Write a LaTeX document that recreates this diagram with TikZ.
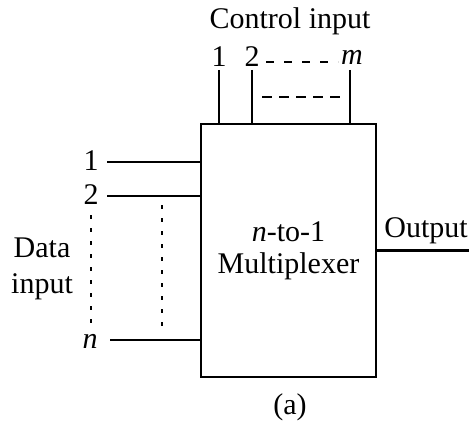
\documentclass[tikz,border=0pt]{standalone}
\usepackage{fontspec}
\setmainfont{Liberation Serif}
\begin{document}
\begin{tikzpicture}[x=0.5pt,y=-0.5pt,
  wire/.style={line width=1.1pt},
  dotline/.style={line width=0.9pt,dash pattern=on 2pt off 4.5pt},
  dashline/.style={line width=0.9pt,dash pattern=on 5pt off 3.5pt},
  dashlineb/.style={line width=0.9pt,dash pattern=on 4pt off 5pt},
  lbl/.style={inner sep=0pt,font=\fontsize{15}{17}\selectfont},
  box/.style={draw,line width=1.1pt,minimum width=87.5pt,minimum height=126.5pt,inner sep=0pt,align=center,font=\fontsize{15}{17}\selectfont}]
\useasboundingbox (0,0) rectangle (469,427);
\node[box] (mux) at (288.5,250.5) {\textit{n}-to-1\\[-1pt]Multiplexer};
% control inputs
\node[lbl] (ctl) at (290,21) {Control input};
\node[lbl] (c1l) at (219,57) {1};
\node[lbl] (c2l) at (252,57) {2};
\node[lbl] (cml) at (352,57) {\textit{m}};
\coordinate (c1) at (219,70);
\coordinate (c2) at (252,70);
\coordinate (cm) at (350,70);
\draw[wire] (c1) -- (c1 |- mux.north);
\draw[wire] (c2) -- (c2 |- mux.north);
\draw[wire] (cm) -- (cm |- mux.north);
\coordinate (ua) at (266,62);
\coordinate (ub) at (338,62);
\draw[dashlineb] (ua) -- (ub);
\coordinate (la) at (262,97);
\coordinate (lb) at (344,97);
\draw[dashline] (la) -- (lb);
% data inputs
\node[lbl] (d1l) at (91,161) {1};
\node[lbl] (d2l) at (91,195) {2};
\node[lbl] (dnl) at (90,341) {\textit{n}};
\coordinate (d1) at (107,162);
\coordinate (d2) at (107,196);
\coordinate (dn) at (110,340);
\draw[wire] (d1) -- (d1 -| mux.west);
\draw[wire] (d2) -- (d2 -| mux.west);
\draw[wire] (dn) -- (dn -| mux.west);
\coordinate (va) at (91,215);
\coordinate (vb) at (91,328);
\draw[dotline] (va) -- (vb);
\coordinate (wa) at (162,205);
\coordinate (wb) at (162,333);
\draw[dotline] (wa) -- (wb);
\node[lbl,align=center] (din) at (42,269) {Data\\[1pt]input};
% output
\node[lbl,anchor=west] (outl) at (384,231) {Output};
\coordinate (oe) at (469,250.5);
\draw[wire] (mux.east) -- (oe);
\node[lbl] (cap) at (290,407) {(a)};
\end{tikzpicture}
\end{document}
